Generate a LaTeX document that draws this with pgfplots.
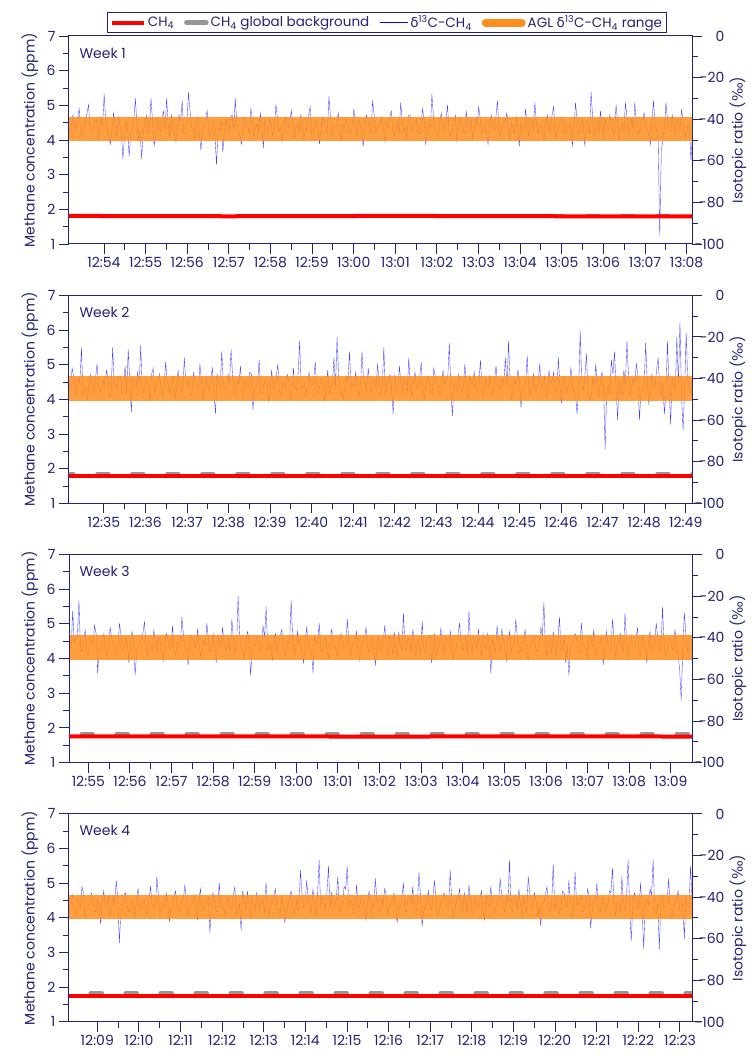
\documentclass[border=0pt]{standalone}
\usepackage{fontspec}
\setmainfont{Poppins}
\newfontfamily\grk{DejaVu Sans}
\usepackage{pgfplots}
\pgfplotsset{compat=1.18}
\definecolor{navy}{RGB}{35,35,115}
\definecolor{agl}{RGB}{255,142,30}
\definecolor{bgray}{RGB}{150,150,150}
\newcommand{\dlt}{{\grk δ}}
\tikzset{wk/.style={anchor=base west, font=\fontsize{14}{14}\selectfont, text=navy},
  rlab/.style={rotate=90, anchor=center, font=\fontsize{14}{16}\selectfont, text=navy}}
\pgfplotsset{
  base/.style={scale only axis, width=623pt, height=208pt, clip mode=individual,
    axis line style={navy, line width=1pt},
    every tick/.style={navy, line width=0.9pt},
    tick align=outside, major tick length=10pt, minor tick length=6pt,
    tick label style={font=\fontsize{14}{14}\selectfont, text=navy},
    label style={font=\fontsize{14}{16}\selectfont, text=navy},
    minor x tick num=1, minor y tick num=1},
  leftax/.style={base, ymin=1, ymax=7, ytick={1,2,3,4,5,6,7}, yticklabels={1,2,3,4,5,6,7},
    ytick pos=left, xtick pos=left,
    ylabel={Methane concentration (ppm)},
    ylabel style={at={(axis description cs:-0.0626,0.5)}, anchor=center}},
  rightax/.style={base, ymin=-100, ymax=0, ytick={-100,-80,-60,-40,-20,0},
    yticklabels={-100,-80,-60,-40,-20,0},
    axis y line*=right, axis x line=none,
    yticklabel style={anchor=east, xshift=26pt}},
  bl/.style={blue, line width=0.35pt, opacity=0.75, forget plot},
  band/.style={draw=none, fill=agl, fill opacity=0.86, forget plot},
  rd/.style={red, line width=4pt, forget plot},
  gr/.style={bgray, line width=4.5pt, line cap=round, dash pattern=on 11pt off 24pt, forget plot},
}
\newcommand{\rightlabel}{\node[rlab] at (axis description cs:1.0738,0.5) {Isotopic ratio ({\grk ‰})};}
\begin{document}
\begin{tikzpicture}
\useasboundingbox (-69pt,-813pt) rectangle (683pt,244pt);
% ---------------- Week 1
\begin{axis}[rightax, at={(0pt,0pt)}, xmin=53.16, xmax=68.13]
\addplot[bl] table[x expr=53.18+0.0375*\coordindex, y index=0, header=false, row sep=\\] {
-47\\-42\\-38\\-45\\-44\\-39\\-35\\-48\\-49\\-43\\-40\\-37\\-33\\-46\\-46\\-44\\-41\\-40\\-50\\-47\\
-39\\-43\\-28\\-41\\-45\\-48\\-52\\-45\\-37\\-42\\-48\\-39\\-43\\-46\\-59\\-49\\-41\\-44\\-58\\-47\\
-44\\-40\\-30\\-43\\-50\\-46\\-59\\-47\\-42\\-38\\-47\\-44\\-30\\-41\\-53\\-48\\-40\\-43\\-46\\-39\\
-36\\-45\\-30\\-42\\-49\\-38\\-42\\-46\\-51\\-44\\-38\\-41\\-31\\-47\\-47\\-43\\-27\\-36\\-44\\-45\\
-50\\-42\\-39\\-47\\-55\\-44\\-43\\-40\\-36\\-46\\-48\\-43\\-41\\-48\\-62\\-45\\-45\\-41\\-56\\-47\\
-40\\-44\\-47\\-39\\-38\\-45\\-30\\-42\\-46\\-48\\-52\\-44\\-39\\-41\\-44\\-47\\-35\\-40\\-49\\-44\\
-42\\-46\\-37\\-43\\-54\\-40\\-45\\-47\\-40\\-42\\-48\\-45\\-33\\-39\\-46\\-44\\-51\\-47\\-39\\-42\\
-44\\-40\\-36\\-45\\-49\\-43\\-42\\-46\\-38\\-41\\-50\\-44\\-45\\-38\\-34\\-47\\-47\\-42\\-41\\-45\\
-52\\-44\\-39\\-41\\-45\\-47\\-29\\-39\\-48\\-45\\-43\\-43\\-37\\-46\\-50\\-42\\-44\\-40\\-40\\-47\\
-46\\-43\\-35\\-45\\-49\\-41\\-42\\-46\\-53\\-44\\-38\\-40\\-45\\-47\\-31\\-38\\-47\\-44\\-43\\-42\\
-39\\-45\\-51\\-42\\-44\\-39\\-36\\-46\\-48\\-43\\-41\\-47\\-32\\-41\\-46\\-44\\-50\\-38\\-38\\-45\\
-44\\-42\\-40\\-46\\-47\\-43\\-35\\-40\\-52\\-47\\-42\\-44\\-28\\-39\\-45\\-46\\-49\\-42\\-37\\-45\\
-43\\-41\\-33\\-47\\-48\\-44\\-41\\-38\\-51\\-45\\-39\\-42\\-46\\-47\\-36\\-43\\-44\\-40\\-49\\-46\\
-40\\-43\\-34\\-40\\-47\\-45\\-43\\-47\\-52\\-42\\-38\\-44\\-45\\-39\\-31\\-46\\-48\\-43\\-42\\-41\\
-37\\-45\\-50\\-42\\-44\\-47\\-39\\-44\\-53\\-41\\-46\\-46\\-35\\-43\\-48\\-40\\-41\\-45\\-32\\-42\\
-47\\-44\\-43\\-47\\-50\\-41\\-38\\-45\\-45\\-38\\-34\\-46\\-49\\-43\\-42\\-40\\-39\\-47\\-46\\-44\\
-44\\-42\\-53\\-45\\-32\\-40\\-47\\-46\\-40\\-43\\-53\\-41\\-43\\-47\\-27\\-39\\-48\\-44\\-41\\-46\\
-36\\-43\\-49\\-40\\-44\\-45\\-38\\-42\\-46\\-47\\-33\\-41\\-50\\-44\\-42\\-46\\-32\\-39\\-47\\-43\\
-40\\-45\\-32\\-42\\-48\\-46\\-43\\-40\\-37\\-44\\-45\\-47\\-52\\-41\\-31\\-43\\-46\\-50\\-96\\-55\\
-50\\-44\\-32\\-41\\-44\\-46\\-38\\-43\\-47\\-40\\-41\\-45\\-35\\-42\\-49\\-47\\-43\\-44\\-60\\-46\\
};
\addplot[band] coordinates {(53,-50.6) (69,-50.6) (69,-38.8) (53,-38.8)};
\rightlabel
\end{axis}
\begin{axis}[leftax, at={(0pt,0pt)}, xmin=53.16, xmax=68.13,
  xtick={54,...,68},
  xticklabels={12:54,12:55,12:56,12:57,12:58,12:59,13:00,13:01,13:02,13:03,13:04,13:05,13:06,13:07,13:08},
  legend columns=4,
  legend style={at={(axis description cs:0.5104,1)}, anchor=south, yshift=3pt,
    draw=navy, line width=1pt, font=\fontsize{13.5}{14}\selectfont, text=navy,
    inner xsep=2pt, inner ysep=1pt,
    /tikz/every even column/.append style={column sep=8pt}},
  ]
\addplot[gr] coordinates {(53,1.81) (69,1.81)};
\addplot[rd] coordinates {(53,1.81) (57,1.80) (61,1.81) (65,1.80) (69,1.80)};
\node[wk] at (axis description cs:0.0112,0.894) {Week 1};
\addlegendimage{legend image code/.code={\draw[red, line width=4pt] (0pt,0pt) -- (32pt,0pt);}}
\addlegendentry{CH\textsubscript{4}}
\addlegendimage{legend image code/.code={\draw[bgray, line width=4.5pt, line cap=round] (2pt,0pt) -- (22pt,0pt);}}
\addlegendentry{CH\textsubscript{4} global background}
\addlegendimage{legend image code/.code={\draw[blue, line width=1pt] (0pt,0pt) -- (28pt,0pt);}}
\addlegendentry{\dlt\textsuperscript{13}C-CH\textsubscript{4}}
\addlegendimage{legend image code/.code={\draw[agl, line width=8pt, line cap=round] (4pt,0pt) -- (40pt,0pt);}}
\addlegendentry{AGL \dlt\textsuperscript{13}C-CH\textsubscript{4} range}
\end{axis}
% ---------------- Week 2
\begin{axis}[rightax, at={(0pt,-259.3pt)}, xmin=34.16, xmax=49.15]
\addplot[bl] table[x expr=34.16+0.0375*\coordindex, y index=0, header=false, row sep=\\] {
-45\\-44\\-35\\-39\\-48\\-45\\-40\\-42\\-25\\-48\\-44\\-44\\-50\\-41\\-38\\-47\\-46\\-40\\-33\\-44\\
-47\\-46\\-41\\-43\\-36\\-40\\-49\\-47\\-25\\-42\\-43\\-45\\-39\\-39\\-48\\-44\\-34\\-47\\-26\\-42\\
-56\\-40\\-42\\-45\\-37\\-43\\-24\\-46\\-47\\-41\\-40\\-44\\-51\\-38\\-35\\-47\\-44\\-42\\-38\\-45\\
-49\\-44\\-32\\-41\\-45\\-47\\-41\\-39\\-50\\-45\\-36\\-43\\-46\\-46\\-30\\-42\\-43\\-40\\-48\\-47\\
-37\\-43\\-44\\-45\\-33\\-41\\-50\\-46\\-39\\-44\\-46\\-40\\-35\\-47\\-57\\-38\\-42\\-44\\-27\\-42\\
-45\\-45\\-38\\-42\\-26\\-39\\-48\\-46\\-41\\-43\\-34\\-47\\-49\\-41\\-43\\-44\\-37\\-38\\-55\\-45\\
-44\\-42\\-31\\-46\\-47\\-43\\-40\\-40\\-51\\-47\\-36\\-44\\-45\\-39\\-33\\-46\\-48\\-42\\-42\\-45\\
-38\\-41\\-50\\-47\\-35\\-44\\-46\\-38\\-22\\-45\\-44\\-42\\-49\\-47\\-37\\-43\\-43\\-40\\-32\\-46\\
-47\\-43\\-40\\-40\\-51\\-45\\-36\\-47\\-45\\-42\\-30\\-44\\-20\\-39\\-48\\-46\\-50\\-43\\-39\\-41\\
-27\\-45\\-44\\-42\\-37\\-47\\-49\\-44\\-27\\-41\\-42\\-46\\-35\\-43\\-46\\-40\\-40\\-45\\-33\\-42\\
-48\\-44\\-25\\-47\\-43\\-41\\-38\\-45\\-57\\-38\\-45\\-46\\-34\\-43\\-47\\-40\\-41\\-47\\-30\\-44\\
-49\\-42\\-37\\-45\\-44\\-40\\-32\\-46\\-50\\-43\\-39\\-41\\-46\\-47\\-35\\-39\\-43\\-44\\-48\\-46\\
-36\\-43\\-41\\-40\\-23\\-45\\-58\\-42\\-45\\-47\\-38\\-41\\-47\\-44\\-33\\-46\\-50\\-39\\-42\\-43\\
-37\\-45\\-46\\-42\\-31\\-46\\-49\\-40\\-43\\-44\\-39\\-47\\-48\\-41\\-34\\-43\\-45\\-45\\-40\\-42\\
-30\\-44\\-22\\-41\\-50\\-46\\-41\\-43\\-36\\-40\\-54\\-45\\-44\\-42\\-29\\-47\\-48\\-44\\-38\\-46\\
-46\\-42\\-33\\-45\\-43\\-39\\-49\\-48\\-36\\-43\\-41\\-37\\-47\\-46\\-30\\-44\\-52\\-40\\-39\\-47\\
-44\\-43\\-35\\-41\\-48\\-48\\-57\\-45\\-17\\-42\\-46\\-39\\-28\\-46\\-50\\-49\\-40\\-44\\-33\\-47\\
-49\\-40\\-37\\-43\\-74\\-46\\-44\\-47\\-31\\-38\\-27\\-44\\-60\\-41\\-45\\-48\\-36\\-43\\-22\\-39\\
-48\\-45\\-40\\-42\\-33\\-38\\-60\\-46\\-46\\-44\\-23\\-41\\-52\\-47\\-38\\-43\\-44\\-36\\-30\\-45\\
-49\\-42\\-57\\-47\\-22\\-44\\-62\\-40\\-41\\-46\\-20\\-43\\-13\\-48\\-65\\-45\\-18\\-41\\-45\\-47\\
-38\\
};
\addplot[band] coordinates {(34,-50.6) (50,-50.6) (50,-38.8) (34,-38.8)};
\rightlabel
\end{axis}
\begin{axis}[leftax, at={(0pt,-259.3pt)}, xmin=34.16, xmax=49.15,
  xtick={35,...,49},
  xticklabels={12:35,12:36,12:37,12:38,12:39,12:40,12:41,12:42,12:43,12:44,12:45,12:46,12:47,12:48,12:49}]
\addplot[gr] coordinates {(34,1.84) (50,1.84)};
\addplot[rd] coordinates {(34,1.78) (38,1.78) (42,1.78) (46,1.78) (50,1.78)};
\node[wk] at (axis description cs:0.0112,0.894) {Week 2};
\end{axis}
% ---------------- Week 3
\begin{axis}[rightax, at={(0pt,-518.6pt)}, xmin=54.536, xmax=69.51]
\addplot[bl] table[x expr=54.55+0.0375*\coordindex, y index=0, header=false, row sep=\\] {
-44\\-45\\-27\\-42\\-40\\-39\\-22\\-46\\-47\\-43\\-36\\-47\\-49\\-41\\-41\\-44\\-34\\-38\\-57\\-45\\
-45\\-42\\-38\\-46\\-50\\-43\\-35\\-40\\-43\\-47\\-48\\-44\\-33\\-39\\-46\\-46\\-40\\-42\\-52\\-45\\
-37\\-41\\-58\\-47\\-44\\-44\\-39\\-38\\-32\\-45\\-49\\-42\\-42\\-47\\-36\\-43\\-47\\-40\\-41\\-46\\
-51\\-43\\-38\\-40\\-45\\-45\\-34\\-47\\-48\\-42\\-43\\-44\\-30\\-39\\-46\\-46\\-53\\-43\\-39\\-41\\
-44\\-45\\-36\\-42\\-49\\-47\\-41\\-44\\-33\\-41\\-47\\-46\\-38\\-43\\-52\\-40\\-42\\-45\\-35\\-42\\
-46\\-44\\-40\\-47\\-31\\-41\\-48\\-45\\-20\\-38\\-44\\-46\\-50\\-43\\-37\\-40\\-58\\-47\\-43\\-44\\
-39\\-42\\-47\\-45\\-34\\-40\\-25\\-46\\-45\\-43\\-51\\-41\\-38\\-47\\-43\\-39\\-36\\-44\\-49\\-46\\
-41\\-43\\-22\\-40\\-48\\-45\\-37\\-42\\-44\\-47\\-52\\-41\\-35\\-44\\-46\\-46\\-57\\-39\\-42\\-43\\
-33\\-45\\-47\\-42\\-40\\-46\\-50\\-40\\-36\\-44\\-44\\-47\\-49\\-41\\-38\\-43\\-45\\-45\\-31\\-42\\
-48\\-44\\-42\\-41\\-37\\-46\\-51\\-43\\-43\\-40\\-35\\-45\\-47\\-42\\-40\\-47\\-53\\-44\\-39\\-46\\
-45\\-42\\-34\\-45\\-48\\-39\\-42\\-48\\-37\\-43\\-50\\-37\\-44\\-46\\-28\\-44\\-46\\-40\\-41\\-47\\
-36\\-43\\-49\\-41\\-43\\-48\\-32\\-45\\-47\\-42\\-40\\-39\\-52\\-46\\-38\\-49\\-45\\-44\\-35\\-47\\
-48\\-40\\-42\\-43\\-37\\-46\\-50\\-47\\-44\\-38\\-33\\-44\\-46\\-41\\-39\\-48\\-27\\-43\\-48\\-39\\
-41\\-45\\-36\\-42\\-49\\-38\\-43\\-46\\-38\\-44\\-57\\-41\\-45\\-47\\-34\\-43\\-47\\-36\\-40\\-45\\
-51\\-42\\-37\\-47\\-44\\-44\\-31\\-40\\-48\\-46\\-42\\-43\\-36\\-48\\-50\\-45\\-43\\-41\\-39\\-47\\
-46\\-44\\-35\\-39\\-23\\-45\\-49\\-42\\-41\\-48\\-37\\-44\\-48\\-41\\-30\\-47\\-44\\-40\\-52\\-44\\
-58\\-46\\-43\\-43\\-38\\-40\\-47\\-47\\-33\\-42\\-45\\-45\\-50\\-39\\-40\\-44\\-36\\-47\\-48\\-42\\
-42\\-40\\-53\\-45\\-37\\-43\\-45\\-46\\-31\\-41\\-49\\-44\\-41\\-38\\-46\\-47\\-28\\-42\\-50\\-45\\
-39\\-44\\-44\\-41\\-35\\-47\\-48\\-39\\-42\\-45\\-52\\-43\\-37\\-46\\-46\\-42\\-33\\-40\\-43\\-47\\
-25\\-43\\-49\\-45\\-40\\-41\\-45\\-46\\-36\\-44\\-48\\-55\\-70\\-47\\-28\\-38\\-47\\-44\\-42\\-42\\
};
\addplot[band] coordinates {(54,-50.6) (70,-50.6) (70,-38.8) (54,-38.8)};
\rightlabel
\end{axis}
\begin{axis}[leftax, at={(0pt,-518.6pt)}, xmin=54.536, xmax=69.51,
  xtick={55,...,69},
  xticklabels={12:55,12:56,12:57,12:58,12:59,13:00,13:01,13:02,13:03,13:04,13:05,13:06,13:07,13:08,13:09}]
\addplot[gr] coordinates {(54,1.82) (70,1.82)};
\addplot[rd] coordinates {(54,1.76) (58,1.76) (62,1.75) (66,1.76) (70,1.75)};
\node[wk] at (axis description cs:0.0112,0.894) {Week 3};
\end{axis}
% ---------------- Week 4
\begin{axis}[rightax, at={(0pt,-777.9pt)}, xmin=8.32, xmax=23.29]
\addplot[bl] table[x expr=8.33+0.0375*\coordindex, y index=0, header=false, row sep=\\] {
-46\\-44\\-39\\-47\\-48\\-41\\-42\\-45\\-35\\-38\\-50\\-46\\-44\\-43\\-38\\-40\\-47\\-47\\-41\\-44\\
-53\\-42\\-37\\-45\\-45\\-40\\-49\\-46\\-40\\-43\\-32\\-41\\-62\\-47\\-44\\-39\\-38\\-44\\-47\\-46\\
-42\\-43\\-50\\-40\\-36\\-45\\-46\\-42\\-41\\-47\\-48\\-41\\-35\\-44\\-44\\-46\\-30\\-39\\-49\\-43\\
-43\\-45\\-38\\-42\\-52\\-46\\-45\\-40\\-37\\-44\\-47\\-47\\-41\\-41\\-34\\-43\\-49\\-45\\-44\\-42\\
-39\\-44\\-51\\-41\\-36\\-46\\-46\\-43\\-42\\-40\\-57\\-45\\-38\\-42\\-47\\-47\\-33\\-44\\-44\\-46\\
-49\\-42\\-40\\-45\\-45\\-39\\-35\\-48\\-48\\-43\\-56\\-37\\-42\\-46\\-37\\-44\\-50\\-40\\-44\\-47\\
-38\\-43\\-47\\-41\\-41\\-48\\-33\\-45\\-49\\-42\\-43\\-39\\-36\\-46\\-46\\-49\\-40\\-44\\-52\\-47\\
-44\\-40\\-37\\-43\\-48\\-46\\-41\\-47\\-27\\-38\\-45\\-44\\-32\\-41\\-43\\-48\\-36\\-43\\-49\\-39\\
-22\\-45\\-40\\-42\\-46\\-38\\-25\\-46\\-38\\-44\\-44\\-41\\-30\\-47\\-47\\-43\\-35\\-36\\-25\\-45\\
-42\\-42\\-48\\-47\\-34\\-44\\-45\\-40\\-39\\-46\\-51\\-43\\-37\\-48\\-44\\-45\\-31\\-41\\-47\\-47\\
-41\\-44\\-36\\-39\\-49\\-45\\-43\\-42\\-38\\-48\\-52\\-44\\-45\\-41\\-33\\-47\\-47\\-40\\-40\\-44\\
-35\\-46\\-48\\-43\\-28\\-40\\-54\\-47\\-44\\-42\\-37\\-45\\-46\\-39\\-32\\-44\\-49\\-47\\-42\\-42\\
-38\\-40\\-45\\-45\\-27\\-43\\-50\\-46\\-41\\-41\\-36\\-44\\-47\\-38\\-43\\-47\\-34\\-42\\-48\\-45\\
-40\\-44\\-46\\-41\\-37\\-47\\-51\\-39\\-43\\-45\\-35\\-43\\-48\\-46\\-42\\-42\\-31\\-40\\-45\\-47\\
-39\\-43\\-22\\-45\\-47\\-41\\-41\\-46\\-36\\-44\\-50\\-40\\-44\\-47\\-30\\-38\\-46\\-44\\-38\\-42\\
-49\\-45\\-54\\-42\\-43\\-39\\-35\\-46\\-47\\-43\\-24\\-47\\-41\\-41\\-48\\-44\\-37\\-38\\-45\\-45\\
-32\\-42\\-50\\-46\\-28\\-43\\-44\\-40\\-39\\-47\\-46\\-44\\-36\\-39\\-55\\-46\\-42\\-42\\-33\\-45\\
-48\\-41\\-40\\-47\\-45\\-44\\-37\\-38\\-26\\-45\\-49\\-42\\-43\\-47\\-30\\-43\\-47\\-40\\-22\\-46\\
-61\\-43\\-38\\-40\\-46\\-45\\-33\\-47\\-65\\-42\\-41\\-44\\-36\\-39\\-22\\-46\\-48\\-43\\-65\\-41\\
-39\\-45\\-45\\-42\\-31\\-47\\-50\\-44\\-42\\-41\\-37\\-46\\-47\\-43\\-60\\-40\\-44\\-45\\-25\\-42\\
};
\addplot[band] coordinates {(8,-50.6) (24,-50.6) (24,-38.8) (8,-38.8)};
\rightlabel
\end{axis}
\begin{axis}[leftax, at={(0pt,-777.9pt)}, xmin=8.32, xmax=23.29,
  xtick={9,...,23},
  xticklabels={12:09,12:10,12:11,12:12,12:13,12:14,12:15,12:16,12:17,12:18,12:19,12:20,12:21,12:22,12:23}]
\addplot[gr] coordinates {(8,1.83) (24,1.83)};
\addplot[rd] coordinates {(8,1.76) (12,1.76) (16,1.76) (20,1.76) (24,1.76)};
\node[wk] at (axis description cs:0.0112,0.894) {Week 4};
\end{axis}
\end{tikzpicture}
\end{document}
